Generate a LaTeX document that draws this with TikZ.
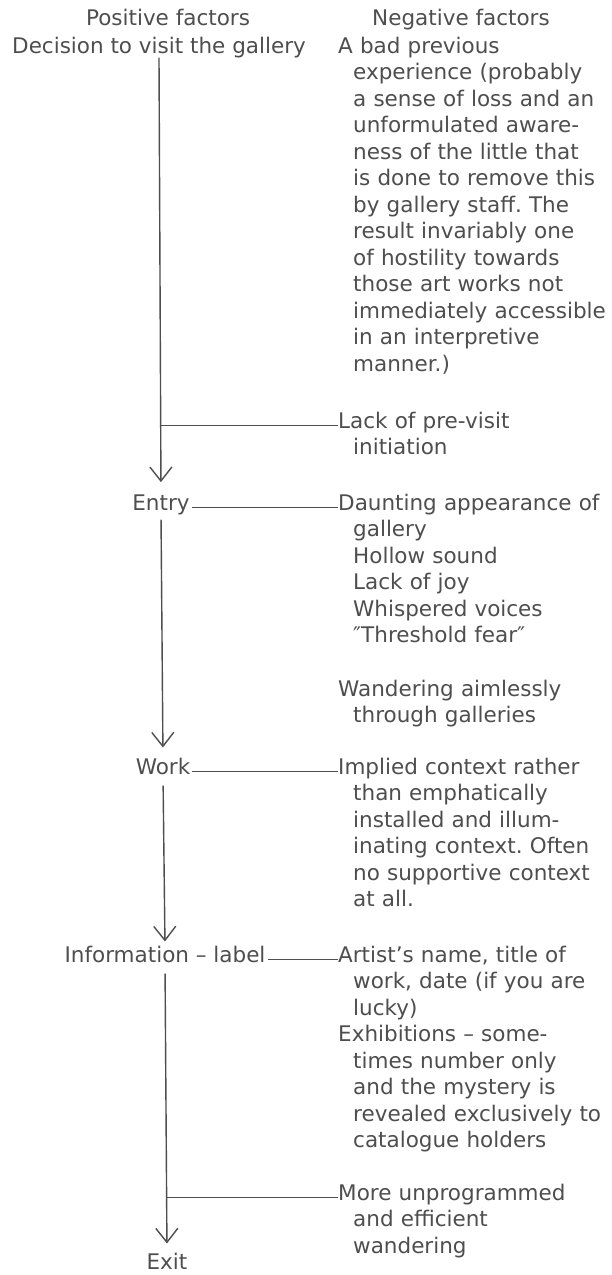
\documentclass[tikz,border=0pt]{standalone}
\usepackage{fontspec}
\setmainfont{DejaVu Sans}
\usetikzlibrary{arrows.meta}
\definecolor{ink}{HTML}{4E4E4E}
\newcommand{\nl}{\hfil\break}
\newcommand{\hang}{\frenchspacing\hangindent=15pt\hangafter=1 }
\begin{document}
\begin{tikzpicture}[x=1pt,y=-1pt,
  txt/.style={inner sep=0pt, text=ink, font=\fontsize{21.5}{26.5}\selectfont},
  lft/.style={txt, inner xsep=2pt, anchor=base},
  rgt/.style={txt, anchor=base west, text width=272pt},
  link/.style={draw=ink, line width=1.4pt},
  flow/.style={link, -{Straight Barb[length=14pt,width=22pt]}}]
\useasboundingbox[fill=white] (0,0) rectangle (612,1275);

% headers
\node[lft] (pos) at (168,25) {Positive factors};
\node[lft] (neg) at (461,25) {Negative factors};

% left column
\node[lft] (dec) at (159,53) {Decision to visit the gallery};
\node[lft] (entry) at (161,510) {Entry};
\node[lft] (work) at (163,774) {Work};
\node[lft] (info) at (165,962) {Information – label};
\node[lft] (exit) at (167,1269) {Exit};

% right column
\node[rgt] (bad) at (338,53) {\hang A bad previous\nl experience (probably\nl a sense of loss and an\nl unformulated aware-\nl ness of the little that\nl is done to remove this\nl by gallery staff. The\nl result invariably one\nl of hostility towards\nl those art works not\nl immediately accessible\nl in an interpretive\nl manner.)\par};
\node[rgt] (lack) at (338,428) {\hang Lack of pre-visit\nl initiation\par};
\node[rgt] (daunt) at (338,510) {\hang Daunting appearance of\nl gallery\nl Hollow sound\nl Lack of joy\nl Whispered voices\nl ″Threshold fear″\par};
\node[rgt] (wander) at (338,696) {\hang Wandering aimlessly\nl through galleries\par};
\node[rgt] (implied) at (338,774) {\hang Implied context rather\nl than emphatically\nl installed and illum-\nl inating context. Often\nl no supportive context\nl at all.\par};
\node[rgt] (artist) at (338,962) {\hang Artist’s name, title of\nl work, date (if you are\nl lucky)\par};
\node[rgt] (exhib) at (338,1041.5) {\hang Exhibitions – some-\nl times number only\nl and the mystery is\nl revealed exclusively to\nl catalogue holders\par};
\node[rgt] (more) at (338,1200) {\hang More unprogrammed\nl and efficient\nl wandering\par};

% branch points
\coordinate (b1) at (entry.north |- lack.mid west);
\coordinate (b2) at (exit.north |- more.mid west);

% connectors
\draw[flow, shorten >=12pt] (dec.south) -- (entry.north);
\draw[link] (b1) -- (lack.mid west);
\draw[link] (entry.mid east) -- (daunt.mid west);
\draw[flow, shorten <=5pt, shorten >=10pt] (entry.south) -- (work.north);
\draw[link] (work.mid east) -- (implied.mid west);
\draw[flow, shorten <=11pt, shorten >=4pt] (work.south) -- (info.north);
\draw[link] (info.mid east) -- (artist.mid west);
\draw[flow, shorten <=11pt, shorten >=9pt] (info.south) -- (exit.north);
\draw[link] (b2) -- (more.mid west);
\end{tikzpicture}
\end{document}
